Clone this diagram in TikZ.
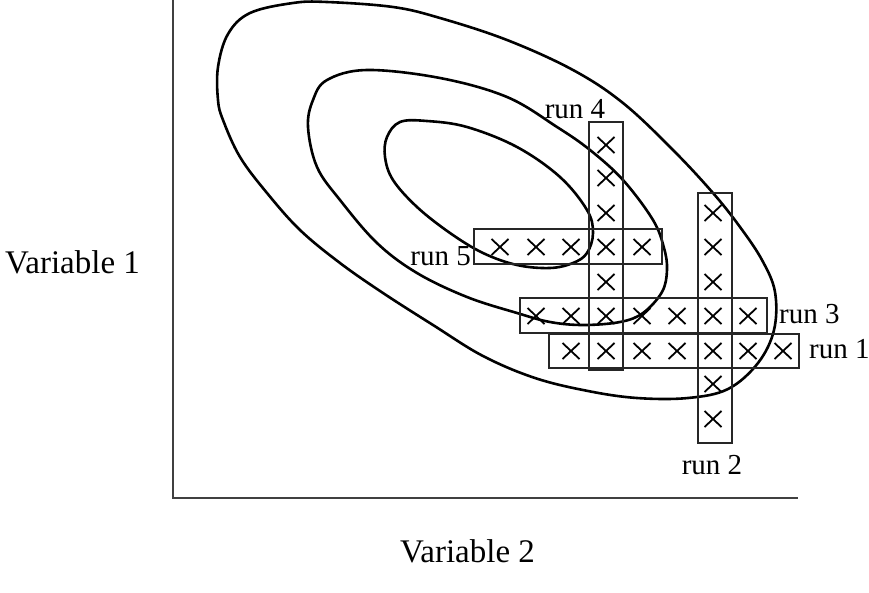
\documentclass[tikz,border=0pt]{standalone}
\usepackage{fontspec}
\setmainfont{Liberation Serif}
\begin{document}
\begin{tikzpicture}[x=1pt,y=-1pt,
  axisline/.style={line width=2.6pt,draw=black!75},
  contour/.style={line width=2.6pt,draw=black},
  runbox/.style={line width=1.8pt,draw=black!85},
  runlabel/.style={inner sep=0pt,font=\fontsize{29}{34}\selectfont},
  axlabel/.style={inner sep=0pt,font=\fontsize{33}{38}\selectfont},
  xcross/.pic={\draw[line width=1.8pt] (-8.5,-8)--(8.5,8) (-8.5,8)--(8.5,-8);}]
\useasboundingbox (0,0) rectangle (869,592);
% axes
\coordinate (origin) at (173,498);
\coordinate (ytop) at (173,0);
\coordinate (xend) at (798,498);
\draw[axisline] (ytop) -- (origin) -- (xend);
% contours
\draw[contour] plot[smooth cycle,tension=0.6] coordinates {
 (218,67) (228,34) (250,13) (293,3) (327,2) (393,7) (440,18) (507,40) (573,70)
 (623,103) (673,150) (713,193) (740,227) (762,260) (775,292) (774,330) (758,363)
 (728,389) (688,398) (637,398) (588,391) (535,378) (483,356) (433,325) (383,293)
 (340,263) (300,230) (267,193) (240,157) (223,120) (218,100)};
\draw[contour] plot[smooth cycle,tension=0.6] coordinates {
 (308,127) (313,100) (327,80) (367,70) (440,78) (507,97) (557,127) (590,150)
 (623,180) (653,220) (664,248) (667,270) (662,292) (643,313) (620,322) (583,325)
 (550,322) (517,313) (467,297) (417,273) (377,243) (340,200) (317,167)};
\draw[contour] plot[smooth cycle,tension=0.6] coordinates {
 (385,157) (387,137) (400,122) (427,121) (467,127) (517,147) (560,177) (587,210)
 (593,233) (587,253) (573,263) (550,268) (517,265) (483,253) (450,233) (417,207)
 (393,180)};
% boxes
\draw[runbox] (589,122) rectangle (623,370);
\draw[runbox] (474,229) rectangle (662,264);
\draw[runbox] (698,193) rectangle (732,443);
\draw[runbox] (520,298) rectangle (767,333);
\draw[runbox] (549,334) rectangle (799,368);
% crosses
\foreach \y in {145,178,213,247,282,316,351} \pic at (606,\y) {xcross};
\foreach \y in {213,247,282,316,351,384,419} \pic at (713,\y) {xcross};
\foreach \x in {500,536,571,642} \pic at (\x,247) {xcross};
\foreach \x in {536,571,642,677,748} \pic at (\x,316) {xcross};
\foreach \x in {571,642,677,748,783} \pic at (\x,351) {xcross};
% labels
\node[runlabel,anchor=base] (l4) at (575,118) {run 4};
\node[runlabel,anchor=base east] (l5) at (471,265) {run 5};
\node[runlabel,anchor=base west] (l3) at (779,323) {run 3};
\node[runlabel,anchor=base west] (l1) at (809,358) {run 1};
\node[runlabel,anchor=base] (l2) at (712,474) {run 2};
\node[axlabel,anchor=base west] (v1) at (5,273) {Variable 1};
\node[axlabel,anchor=base west] (v2) at (400,562) {Variable 2};
\end{tikzpicture}
\end{document}
